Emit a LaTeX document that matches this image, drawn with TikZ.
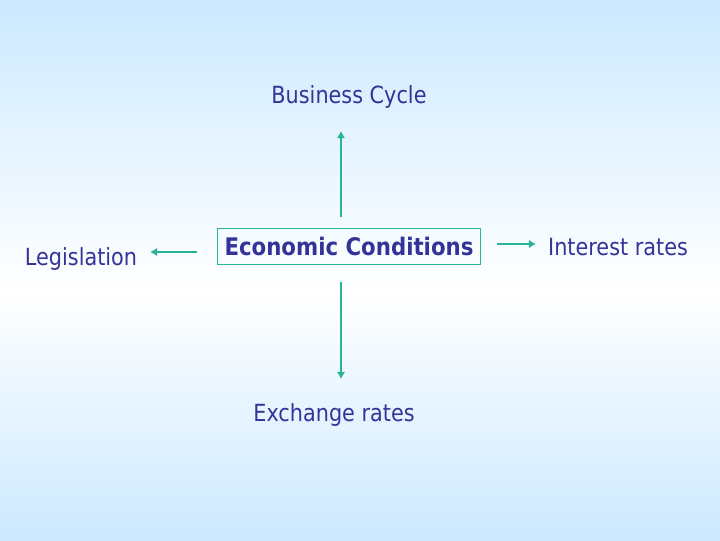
\documentclass[tikz,border=0pt]{standalone}
\usepackage{fontspec}
\setmainfont{DejaVu Sans}[FakeStretch=0.88]
\usepackage{tikz}
\usetikzlibrary{arrows.meta}
\usetikzlibrary{positioning}
\definecolor{TextBlue}{RGB}{51,51,153}
\definecolor{LinkTeal}{RGB}{40,180,150}
\definecolor{SkyBlue}{RGB}{204,233,255}

\tikzset{
  label/.style={text=TextBlue, font=\fontsize{16.8}{20}\selectfont, inner sep=0pt},
  mainbox/.style={draw=LinkTeal, line width=0.8pt, text=TextBlue,
    font=\fontsize{17.2}{20}\selectfont\bfseries, inner xsep=5pt, inner ysep=6pt},
  link/.style={draw=LinkTeal, line width=1.5pt, -{Latex[length=5pt,width=6pt]}}
}

\begin{document}
\begin{tikzpicture}[x=0.025cm, y=-0.025cm]

% background
\shade[top color=SkyBlue, bottom color=white] (0,0) rectangle (720,290);
\shade[top color=white, bottom color=SkyBlue] (0,290) rectangle (720,540);
\useasboundingbox (0,0) rectangle (720,540);

% the centre box
\node[mainbox] (econ) at (349,246.5) {Economic Conditions};

% the four factors
\node[label] (cycle) at (349,97) {Business Cycle};
\node[label] (law)   at (81,259) {Legislation};
\node[label] (rates) at (618,247) {Interest rates};
\node[label] (fx)    at (334,415) {Exchange rates};

% arrow ends
\def \xV {341}
\coordinate (upA)    at (\xV,217);
\coordinate (upB)    at (\xV,131);
\coordinate (downA)  at (\xV,282);
\coordinate (downB)  at (\xV,379);
\coordinate (leftA)  at (197,252);
\coordinate (leftB)  at (150,252);
\coordinate (rightA) at (497,244);
\coordinate (rightB) at (536,244);

% arrows
\draw[link] (upA) -- (upB);
\draw[link] (downA) -- (downB);
\draw[link] (leftA) -- (leftB);
\draw[link] (rightA) -- (rightB);

\end{tikzpicture}
\end{document}
